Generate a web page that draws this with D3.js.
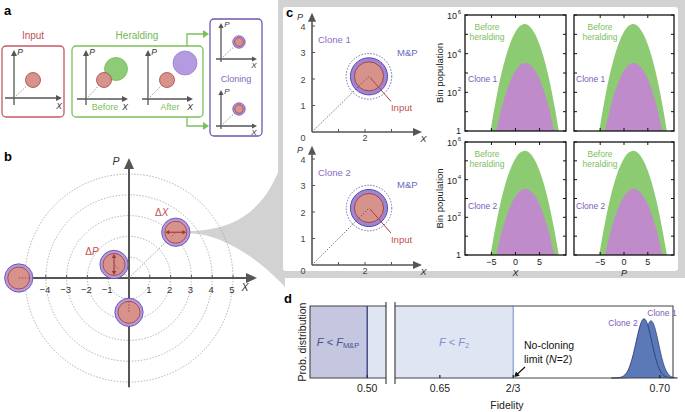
<!DOCTYPE html>
<html><head><meta charset="utf-8">
<script src="https://cdn.jsdelivr.net/npm/d3@7"></script>
<style>body{margin:0;background:#fff}svg{display:block;font-family:"Liberation Sans",Arial,Helvetica,sans-serif}</style>
</head><body><svg id="c" width="685" height="412"></svg>
<script>
// ---------------- DATA ----------------
// panel b: phase-space ticks, rings, coherent states
const bTicks = [-4,-3,-2,-1,1,2,3,4,5];
const bRings = [1,2,3,4,5];
const bStateX = [2.25, -0.72, 0, -5.3];
const bStateP = [2.2, 0.65, -1.65, 0];
const bStateArrow = ["x","p","",""];
// panel c: clone phase-space (input centre, radii in quadrature units)
const cCloneNames = ["Clone 1","Clone 2"];
const cInputX = [2.15, 2.15];
const cInputP = [2.1, 2.15];
const cAxisTicks = [1,2,3,4];
// panel c: histograms (bin centres, bin populations)
const beforeX = [-5.2,-5,-4,-3,-2,-1,0,1,2,3,4,5,6,7,8,9];
const beforeN = [1,2,50,780,7200,40000,135000,276000,338000,250000,110000,29500,4800,470,27,1];
const cloneX  = [-4,-3,-2,-1,0,1,2,3,4,5,6,7,8,8.2];
const cloneN  = [1,12,89,425,1300,2600,3300,2700,1430,480,105,15,1.3,1];
const histXTicks = [-5,0,5];
const histYTicks = [0,2,4,6]; // powers of ten
const histQuad = ["X","P"];
// panel d: fidelity distributions
const fidGrid   = [0.689,0.690,0.691,0.692,0.693,0.694,0.695,0.696,0.697,0.698,0.699,0.700,0.701,0.702,0.703,0.704];
const clone2Den = [0,0.001,0.006,0.035,0.135,0.37,0.71,0.97,0.94,0.64,0.31,0.106,0.026,0.0045,0,0];
const clone1Den = [0,0,0,0.001,0.007,0.043,0.165,0.45,0.80,0.97,0.80,0.45,0.165,0.043,0.007,0];
const fMP = 0.50, fNoClone = 2/3;
const dTickVals = [0.65, 2/3, 0.70];
const dTickLabels = ["0.65","2/3","0.70"];

// ---------------- HELPERS ----------------
const svg = d3.select("#c");
svg.append("rect").attr("width",685).attr("height",412).attr("fill","#fff");

function arrowLine(g,x1,y1,x2,y2,color,w,hl,hw){
  const a=Math.atan2(y2-y1,x2-x1), c=Math.cos(a), s=Math.sin(a);
  const bx=x2-hl*c, by=y2-hl*s;
  g.append("line").attr("x1",x1).attr("y1",y1).attr("x2",bx+0.5*c).attr("y2",by+0.5*s)
    .attr("stroke",color).attr("stroke-width",w);
  g.append("path").attr("d",`M${x2},${y2}L${bx-hw*s},${by+hw*c}L${bx+hw*s},${by-hw*c}Z`).attr("fill",color);
}
function txt(g,x,y,t,o={}){
  const e=g.append("text").attr("x",x).attr("y",y).text(t)
   .attr("font-size",o.size||10).attr("fill",o.color||"#333")
   .attr("text-anchor",o.anchor||"middle");
  if(o.italic) e.attr("font-style","italic");
  if(o.bold) e.attr("font-weight","bold");
  return e;
}
const RED_F="#d8928c", RED_S="#a8433f", PUR_F="#b49be0", PUR_S="#6a4fae", GRN_F="#8ecb76";

// ---------------- PANEL A ----------------
const A = svg.append("g");
txt(A,4,15,"a",{size:13,bold:true,anchor:"start",color:"#000"});
txt(A,33,39,"Input",{color:"#c0505a"});
txt(A,137,39,"Heralding",{color:"#73b853"});
txt(A,236,82,"Cloning",{size:9,color:"#8468c0"});
A.append("rect").attr("x",2).attr("y",46).attr("width",62).attr("height",71).attr("rx",4)
 .attr("fill","none").attr("stroke","#c55a64").attr("stroke-width",1.3);
A.append("rect").attr("x",72).attr("y",46).attr("width",131).attr("height",71).attr("rx",4)
 .attr("fill","none").attr("stroke","#7cc05a").attr("stroke-width",1.3);
A.append("rect").attr("x",210).attr("y",19).attr("width",52).attr("height",117).attr("rx",4)
 .attr("fill","none").attr("stroke","#7256b0").attr("stroke-width",1.3);
// heralding -> cloning arrows
A.append("path").attr("d","M187,46V34H203").attr("fill","none").attr("stroke","#7cc05a").attr("stroke-width",1.3);
A.append("path").attr("d","M203,30L209,34L203,38Z").attr("fill","#7cc05a");
A.append("path").attr("d","M187,117V126H203").attr("fill","none").attr("stroke","#7cc05a").attr("stroke-width",1.3);
A.append("path").attr("d","M203,122L209,126L203,130Z").attr("fill","#7cc05a");

function miniAxes(ox,oy,left,right,down,up,xl){
  arrowLine(A,ox-left,oy,ox+right,oy,"#555",1.3,6,3);
  arrowLine(A,ox,oy+down,ox,oy-up,"#555",1.3,6,3);
  txt(A,ox+6,oy-up+5,"P",{size:8.5,italic:true,color:"#333"});
  txt(A,ox+right-3+ (xl||0),oy+11,"X",{size:8.5,italic:true,color:"#333"});
}
function blob(cx,cy,r,fill,stroke){
  A.append("circle").attr("cx",cx).attr("cy",cy).attr("r",r).attr("fill",fill).attr("stroke",stroke).attr("stroke-width",0.8);
}
function dash(g,x1,y1,x2,y2,col){
  g.append("line").attr("x1",x1).attr("y1",y1).attr("x2",x2).attr("y2",y2)
   .attr("stroke",col||"#777").attr("stroke-width",0.8).attr("stroke-dasharray","1.5,1.5");
}
// input
miniAxes(14,98,9,48,7,48);
dash(A,14,98,33,80); blob(33,80,7.5,RED_F,RED_S);
// before
miniAxes(86,99,9,42,6,49);
blob(116,69,11.5,GRN_F,"#7ab864");
dash(A,86,99,104,80); blob(104,80,7.5,RED_F,RED_S);
txt(A,105,110,"Before",{size:9,color:"#7cc05a"});
// after
miniAxes(148,99,6,45,6,49);
blob(185,63,12,PUR_F,"#9a80cc");
dash(A,148,99,167,80); blob(167,80,7.5,RED_F,RED_S);
txt(A,170,110,"After",{size:9,color:"#7cc05a"});
// cloning outputs
[[221,59],[221,126]].forEach(([ox,oy])=>{
  arrowLine(A,ox-5,oy,ox+36,oy,"#555",1.3,5,2.6);
  arrowLine(A,ox,oy+3,ox,oy-36,"#555",1.3,5,2.6);
  txt(A,ox+6,oy-32,"P",{size:8,italic:true});
  txt(A,ox+33,oy+9,"X",{size:8,italic:true});
  dash(A,ox,oy,ox+18,oy-17);
  blob(ox+18,oy-17,6.2,PUR_F,PUR_S); blob(ox+18,oy-17,4.3,RED_F,RED_S);
});

// ---------------- PANEL C background + funnel ----------------
const xB = d3.scaleLinear().domain([-5,5]).range([25,233]);
const yB = d3.scaleLinear().domain([-5,5]).range([382,174]);
const C = svg.append("g");
const fx = xB(bStateX[0])+14, fy = yB(bStateP[0]);
C.append("path").attr("d",`M${fx},${fy-1}C${fx+45},${fy-3} ${fx+78},${fy-20} ${285},${fy-80}L285,287C${fx+80},${fy+38} ${fx+40},${fy+2} ${fx},${fy+1}Z`).attr("fill","#d2d2d2");
C.append("rect").attr("x",278).attr("y",0).attr("width",407).attr("height",278).attr("fill","#d2d2d2");
C.append("rect").attr("x",283).attr("y",7).attr("width",395).attr("height",264).attr("rx",3).attr("fill","#fff");

// ---------------- PANEL B ----------------
const B = svg.append("g");
txt(B,4,161,"b",{size:13,bold:true,anchor:"start",color:"#000"});
const ux = xB(1)-xB(0);
bRings.forEach(r=>B.append("circle").attr("cx",xB(0)).attr("cy",yB(0)).attr("r",r*ux)
  .attr("fill","none").attr("stroke","#9a9a9a").attr("stroke-width",0.8).attr("stroke-dasharray","1.4,1.6"));
bStateX.forEach((sx,i)=>{ if(i<2) dash(B,xB(0),yB(0),xB(sx),yB(bStateP[i]),"#8a8a8a"); });
arrowLine(B,xB(-5.3),yB(0),257,yB(0),"#555",2,11,5);
arrowLine(B,xB(0),yB(-5.25),xB(0),158,"#555",2,11,5);
bTicks.forEach(t=>{
  B.append("line").attr("x1",xB(t)).attr("x2",xB(t)).attr("y1",yB(0)).attr("y2",yB(0)-3).attr("stroke","#555").attr("stroke-width",1);
  txt(B,xB(t)-1,yB(0)+15,t<0?"\u2212"+(-t):String(t),{size:9.5,color:"#333"});
});
txt(B,245,291,"X",{size:10.5,italic:true});
txt(B,116,165,"P",{size:10.5,italic:true});
const rO = 0.68*ux, rI = 0.53*ux;
bStateX.forEach((sx,i)=>{
  const cx=xB(sx), cy=yB(bStateP[i]);
  B.append("circle").attr("cx",cx).attr("cy",cy).attr("r",rO).attr("fill",PUR_F).attr("stroke",PUR_S).attr("stroke-width",0.9);
  B.append("circle").attr("cx",cx).attr("cy",cy).attr("r",rI).attr("fill",RED_F).attr("stroke",RED_S).attr("stroke-width",0.9);
  if(bStateArrow[i]==="x"){
    arrowLine(B,cx,cy,cx+rI-0.5,cy,"#9a3a36",1.1,4,2.3);
    arrowLine(B,cx,cy,cx-rI+0.5,cy,"#9a3a36",1.1,4,2.3);
    dash(B,cx-4,cy+4,cx,cy,"#9a3a36");
  } else if(bStateArrow[i]==="p"){
    arrowLine(B,cx,cy,cx,cy-rI+0.5,"#9a3a36",1.1,4,2.3);
    arrowLine(B,cx,cy,cx,cy+rI-0.5,"#9a3a36",1.1,4,2.3);
    dash(B,cx+4,cy+4,cx,cy,"#9a3a36");
  } else if(sx===0){ dash(B,cx,cy-rI,cx,cy,"#9a3a36"); }
  else { dash(B,cx,cy,cx+rI,cy,"#9a3a36"); }
});
const dX = txt(B,xB(bStateX[0])-14,yB(bStateP[0])-16,"\u0394",{size:10,color:"#c0504d"});
dX.append("tspan").attr("font-style","italic").text("X");
const dP = txt(B,xB(bStateX[1])-22,yB(bStateP[1])-9,"\u0394",{size:10,color:"#c0504d"});
dP.append("tspan").attr("font-style","italic").text("P");

// ---------------- PANEL C ----------------
txt(C,286,17,"c",{size:13,bold:true,anchor:"start",color:"#000"});
const cOrig = [132, 265];
cCloneNames.forEach((name,k)=>{
  const oy = cOrig[k];
  const xc = d3.scaleLinear().domain([0,1]).range([312,338.5]);
  const yc = d3.scaleLinear().domain([0,1]).range([oy,oy-26.5]);
  arrowLine(C,xc(0),yc(0),xc(4.15),yc(0),"#555",1.6,9,4);
  arrowLine(C,xc(0),yc(0),xc(0),yc(4.5),"#555",1.6,9,4);
  cAxisTicks.forEach(t=>{
    C.append("line").attr("x1",xc(0)).attr("x2",xc(0)+3).attr("y1",yc(t)).attr("y2",yc(t)).attr("stroke","#555");
    txt(C,xc(0)-9,yc(t)+3.5,String(t),{size:9,color:"#444"});
  });
  [1,2,3].forEach(t=>C.append("line").attr("x1",xc(t)).attr("x2",xc(t)).attr("y1",yc(0)).attr("y2",yc(0)-3).attr("stroke","#555"));
  txt(C,xc(0)-9,yc(0)+9,"0",{size:9,color:"#444"});
  txt(C,xc(2),yc(0)+9,"2",{size:9,color:"#444"});
  txt(C,xc(4.2),yc(0)+10,"X",{size:9.5,italic:true});
  txt(C,xc(0)-12,yc(4.5)+7.5,"P",{size:9,italic:true});
  const cx=xc(cInputX[k]), cy=yc(cInputP[k]);
  C.append("circle").attr("cx",cx).attr("cy",cy).attr("r",0.86*26.5).attr("fill","none")
    .attr("stroke","#5a5ab8").attr("stroke-width",0.9).attr("stroke-dasharray","1.5,1.5");
  C.append("circle").attr("cx",cx).attr("cy",cy).attr("r",0.7*26.5).attr("fill","#9d86d6").attr("stroke","#5f49a8").attr("stroke-width",1);
  C.append("circle").attr("cx",cx).attr("cy",cy).attr("r",0.55*26.5).attr("fill",RED_F).attr("stroke","#a8433f").attr("stroke-width",1);
  dash(C,xc(0),yc(0),cx,cy,"#555");
  C.append("line").attr("x1",cx+1).attr("y1",cy+1).attr("x2",cx+22).attr("y2",cy+25).attr("stroke","#a8433f").attr("stroke-width",1);
  txt(C,cx+22,cy+35,"Input",{size:9.5,color:"#c0504d",anchor:"start"});
  txt(C,cx+28,cy-20,"M&P",{size:9.5,color:"#6868c8",anchor:"start"});
  txt(C,xc(0)+6,yc(3.35),name,{size:9.5,color:"#8a6cc4",anchor:"start"});
});

// histograms
const hCols = [[465,566],[574,674]];
const hRows = [[15,131],[142,255]];
const areaGen = (xs,ys)=>d3.area().x(d=>xs(d[0])).y0(ys(1)).y1(d=>ys(d[1])).curve(d3.curveMonotoneX);
hRows.forEach((row,r)=>{
  const ys = d3.scaleLog().domain([1,1e6]).range([row[1],row[0]]);
  txt(C,0,0,"Bin population",{size:9.5,color:"#222"})
      .attr("transform",`translate(443,${(row[0]+row[1])/2}) rotate(-90)`);
  hCols.forEach((col,c)=>{
    const xs = d3.scaleLinear().domain([-10.5,10.5]).range(col);
    const g = C.append("g");
    const id = `clip${r}${c}`;
    g.append("clipPath").attr("id",id).append("rect").attr("x",col[0]).attr("y",row[0]).attr("width",col[1]-col[0]).attr("height",row[1]-row[0]);
    const gg = g.append("g").attr("clip-path",`url(#${id})`);
    gg.append("path").datum(beforeX.map((x,i)=>[x,beforeN[i]])).attr("d",areaGen(xs,ys)).attr("fill","#8ccb72");
    gg.append("path").datum(cloneX.map((x,i)=>[x,cloneN[i]])).attr("d",areaGen(xs,ys)).attr("fill","#c08bca");
    g.append("rect").attr("x",col[0]).attr("y",row[0]).attr("width",col[1]-col[0]).attr("height",row[1]-row[0])
      .attr("fill","none").attr("stroke","#111").attr("stroke-width",1.3);
    histXTicks.forEach(t=>{
      g.append("line").attr("x1",xs(t)).attr("x2",xs(t)).attr("y1",row[0]).attr("y2",row[0]+3).attr("stroke","#111");
      g.append("line").attr("x1",xs(t)).attr("x2",xs(t)).attr("y1",row[1]).attr("y2",row[1]-3).attr("stroke","#111");
      if(r===1) txt(g,xs(t),row[1]+9.5,t<0?"\u2212"+(-t):String(t),{size:9,color:"#222"});
    });
    d3.range(0,7).forEach(p=>{
      g.append("line").attr("x1",col[0]).attr("x2",col[0]+3).attr("y1",ys(Math.pow(10,p))).attr("y2",ys(Math.pow(10,p))).attr("stroke","#111");
      g.append("line").attr("x1",col[1]).attr("x2",col[1]-3).attr("y1",ys(Math.pow(10,p))).attr("y2",ys(Math.pow(10,p))).attr("stroke","#111");
    });
    if(c===0){
      histYTicks.forEach(p=>{
        if(p===0){ txt(g,col[0]-4,ys(1)+3,"1",{size:9,anchor:"end",color:"#222"}); }
        else {
          txt(g,col[0]-8,ys(Math.pow(10,p))+4,"10",{size:9,anchor:"end",color:"#222"});
          txt(g,col[0]-4,ys(Math.pow(10,p))-1,String(p),{size:6,anchor:"end",color:"#222"});
        }
      });
    }
    if(r===1) txt(g,(col[0]+col[1])/2,row[1]+21,histQuad[c],{size:9,italic:true,color:"#222"});
    const lx = c===0 ? col[0]+22 : col[0]+26;
    txt(g,lx,row[0]+15,"Before",{size:8.5,color:"#7cc05a"});
    txt(g,lx,row[0]+25,"heralding",{size:8.5,color:"#7cc05a"});
    txt(g,col[0]+(c===0?3:2),row[0]+67,cCloneNames[r],{size:8.5,color:"#7a5cb8",anchor:"start"});
  });
});

// ---------------- PANEL D ----------------
const D = svg.append("g");
txt(D,284,303,"d",{size:13,bold:true,anchor:"start",color:"#000"});
const yD = d3.scaleLinear().domain([0,1.15]).range([378,306]);
const xDL = d3.scaleLinear().domain([0.4869,0.5043]).range([310,386]);
const xDR = d3.scaleLinear().domain([0.6398,0.7030]).range([395,673]);
// fills
D.append("rect").attr("x",xDL(0.4869)).attr("y",yD(1.15)).attr("width",xDL(fMP)-xDL(0.4869)).attr("height",yD(0)-yD(1.15)).attr("fill","#c5c6e0");
D.append("rect").attr("x",xDL(fMP)).attr("y",yD(1.15)).attr("width",xDL(0.5043)-xDL(fMP)).attr("height",yD(0)-yD(1.15)).attr("fill","#e0e5f4");
D.append("rect").attr("x",xDR(0.6398)).attr("y",yD(1.15)).attr("width",xDR(fNoClone)-xDR(0.6398)).attr("height",yD(0)-yD(1.15)).attr("fill","#e0e5f4");
D.append("line").attr("x1",xDL(fMP)).attr("x2",xDL(fMP)).attr("y1",yD(0)).attr("y2",yD(1.15)).attr("stroke","#2e3a7a").attr("stroke-width",1.3);
D.append("line").attr("x1",xDR(fNoClone)).attr("x2",xDR(fNoClone)).attr("y1",yD(0)).attr("y2",yD(1.15)).attr("stroke","#6f8ccb").attr("stroke-width",1);
// distributions
const dArea = dens=>d3.area().x((d,i)=>xDR(fidGrid[i])).y0(yD(0)).y1(d=>yD(d)).curve(d3.curveBasis)(dens);
const dLine = dens=>d3.line().x((d,i)=>xDR(fidGrid[i])).y(d=>yD(d)).curve(d3.curveBasis)(dens);
D.append("path").attr("d",dArea(clone1Den)).attr("fill","#5b79b9");
D.append("path").attr("d",dLine(clone1Den)).attr("fill","none").attr("stroke","#34477e").attr("stroke-width",0.8);
D.append("path").attr("d",dArea(clone2Den)).attr("fill","#5b79b9");
D.append("path").attr("d",dLine(clone2Den)).attr("fill","none").attr("stroke","#2c3c72").attr("stroke-width",0.9);
// frames
D.append("path").attr("d",`M${xDL(0.5043)},${yD(1.15)}H${xDL(0.4869)}V${yD(0)}H${xDL(0.5043)}`).attr("fill","none").attr("stroke","#444").attr("stroke-width",1.1);
D.append("path").attr("d",`M${xDR(0.6398)},${yD(1.15)}H${xDR(0.7030)}V${yD(0)}H${xDR(0.6398)}`).attr("fill","none").attr("stroke","#444").attr("stroke-width",1.1);
D.append("line").attr("x1",386).attr("x2",386).attr("y1",302).attr("y2",384).attr("stroke","#444").attr("stroke-width",1.2);
D.append("line").attr("x1",395).attr("x2",395).attr("y1",302).attr("y2",384).attr("stroke","#444").attr("stroke-width",1.2);
// ticks
D.append("line").attr("x1",xDL(fMP)).attr("x2",xDL(fMP)).attr("y1",yD(0)).attr("y2",yD(0)-3).attr("stroke","#222");
txt(D,xDL(fMP),392,"0.50",{size:10.5,color:"#222"});
dTickVals.forEach((v,i)=>{
  D.append("line").attr("x1",xDR(v)).attr("x2",xDR(v)).attr("y1",yD(0)).attr("y2",yD(0)-3).attr("stroke","#222").attr("stroke-width",1.2);
  txt(D,xDR(v),392,dTickLabels[i],{size:10.5,color:"#222"});
});
txt(D,507,409,"Fidelity",{size:10.5,color:"#222"});
txt(D,0,0,"Prob. distribution",{size:10.5,color:"#222"}).attr("transform","translate(306,342) rotate(-90)");
// region labels
const t1 = D.append("text").attr("x",338).attr("y",346).attr("text-anchor","middle").attr("font-size",11).attr("fill","#4a4f8c");
t1.append("tspan").attr("font-style","italic").text("F");
t1.append("tspan").text(" < ");
t1.append("tspan").attr("font-style","italic").text("F");
t1.append("tspan").attr("font-size",7.5).attr("dy",2).text("M&P");
const t2 = D.append("text").attr("x",454).attr("y",346).attr("text-anchor","middle").attr("font-size",11).attr("fill","#7b90c8");
t2.append("tspan").attr("font-style","italic").text("F");
t2.append("tspan").text(" < ");
t2.append("tspan").attr("font-style","italic").text("F");
t2.append("tspan").attr("font-size",7.5).attr("dy",2).text("2");
txt(D,524,349,"No-cloning",{size:10.5,color:"#111",anchor:"start"});
const lim = txt(D,524,363,"limit (",{size:10.5,color:"#111",anchor:"start"});
lim.append("tspan").attr("font-style","italic").text("N");
lim.append("tspan").text("=2)");
arrowLine(D,525,367,xDR(fNoClone)+1,yD(0)-1,"#111",1.2,5,2.8);
txt(D,623,326,"Clone 2",{size:8.5,color:"#7a5cb8"});
txt(D,662,316,"Clone 1",{size:8.5,color:"#7a5cb8"});
</script></body></html>
